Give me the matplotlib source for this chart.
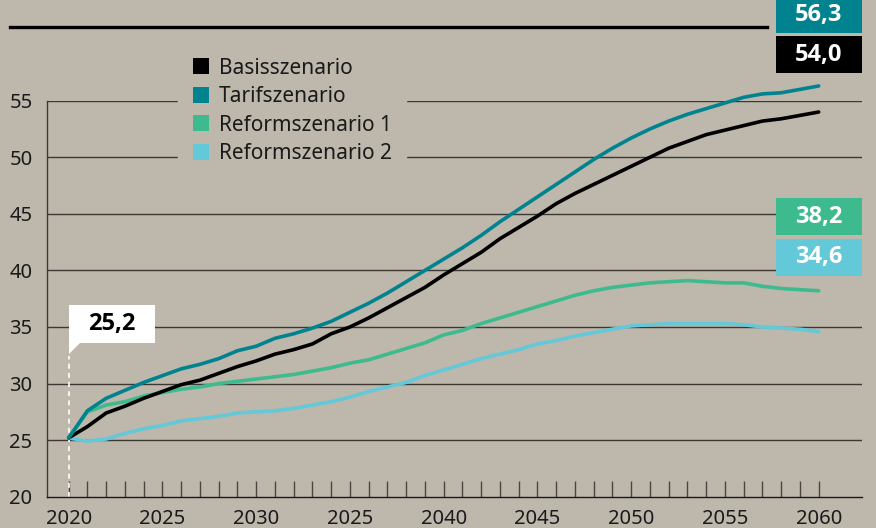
import numpy as np
import matplotlib
matplotlib.use('Agg')
import matplotlib.pyplot as plt
from matplotlib.patches import Patch, Rectangle, Polygon
from matplotlib.lines import Line2D

# Daten, jaehrlich 2020-2060
jahre = list(range(2020, 2061))
basis = [25.2, 26.2, 27.4, 28.0, 28.7, 29.3, 29.9, 30.3, 30.9, 31.5,
         32.0, 32.6, 33.0, 33.5, 34.4, 35.0, 35.8, 36.7, 37.6, 38.5,
         39.6, 40.6, 41.6, 42.8, 43.8, 44.8, 45.9, 46.8, 47.6, 48.4,
         49.2, 50.0, 50.8, 51.4, 52.0, 52.4, 52.8, 53.2, 53.4, 53.7, 54.0]
tarif = [25.2, 27.6, 28.7, 29.4, 30.1, 30.7, 31.3, 31.7, 32.2, 32.9,
         33.3, 34.0, 34.4, 34.9, 35.5, 36.3, 37.1, 38.0, 39.0, 40.0,
         41.0, 42.0, 43.1, 44.3, 45.4, 46.5, 47.6, 48.7, 49.8, 50.8,
         51.7, 52.5, 53.2, 53.8, 54.3, 54.8, 55.3, 55.6, 55.7, 56.0, 56.3]
reform1 = [25.2, 27.5, 28.1, 28.4, 28.9, 29.2, 29.5, 29.7, 30.0, 30.2,
           30.4, 30.6, 30.8, 31.1, 31.4, 31.8, 32.1, 32.6, 33.1, 33.6,
           34.3, 34.7, 35.3, 35.8, 36.3, 36.8, 37.3, 37.8, 38.2, 38.5,
           38.7, 38.9, 39.0, 39.1, 39.0, 38.9, 38.9, 38.6, 38.4, 38.3, 38.2]
reform2 = [25.2, 24.9, 25.1, 25.6, 26.0, 26.3, 26.7, 26.9, 27.1, 27.4,
           27.5, 27.6, 27.8, 28.1, 28.4, 28.8, 29.3, 29.7, 30.1, 30.7,
           31.2, 31.7, 32.2, 32.6, 33.0, 33.5, 33.8, 34.2, 34.5, 34.8,
           35.1, 35.2, 35.3, 35.3, 35.3, 35.3, 35.2, 35.0, 34.9, 34.8, 34.6]

namen = ['Basisszenario', 'Tarifszenario', 'Reformszenario 1', 'Reformszenario 2']
farben = ['#000000', '#00838f', '#3dbb8f', '#63c8d7']
x_ticks = [2020, 2025, 2030, 2035, 2040, 2045, 2050, 2055, 2060]
x_labels = ['2020', '2025', '2030', '2025', '2040', '2045', '2050', '2055', '2060']
y_ticks = [20, 25, 30, 35, 40, 45, 50, 55]

bg = '#bdb7ac'
W, H = 876, 528
fett = ['Open Sans', 'Roboto', 'DejaVu Sans']

plt.rcParams['font.family'] = ['Noto Sans', 'DejaVu Sans']

fig = plt.figure(figsize=(W / 100, H / 100), dpi=100, facecolor=bg)
ax = fig.add_axes([46.5 / W, 1 - 496.7 / H, (862 - 46.5) / W, (496.7 - 100.7) / H])
ax.set_facecolor(bg)


def fx(px):
    return px / W


def fy(py):
    return 1 - py / H


# Linien
serien = [basis, tarif, reform1, reform2]
for idx in [3, 2, 0, 1]:
    ax.plot(jahre, serien[idx], color=farben[idx], lw=2.6, clip_on=False,
            solid_capstyle='round', solid_joinstyle='round', zorder=3)

ax.set_xlim(2018.816, 2062.31)
ax.set_ylim(20, 55)

# Achsen
for s in ['top', 'right']:
    ax.spines[s].set_visible(False)
ax.spines['left'].set_color('#3c3833')
ax.spines['bottom'].set_color('#1a1a1a')
ax.spines['left'].set_linewidth(1.0)
ax.spines['bottom'].set_linewidth(1.0)

ax.set_yticks(y_ticks)
ax.tick_params(axis='y', length=0, pad=10, labelsize=14.5, labelcolor='#1a1a1a')
ax.set_xticks(x_ticks)
ax.set_xticklabels(x_labels)
ax.set_xticks(jahre, minor=True)
ax.tick_params(axis='x', which='both', direction='in', length=11.5, width=1.0,
               color='#4a4540', pad=9, labelsize=14.5, labelcolor='#1a1a1a')

# Gitternetz
for v in y_ticks[1:]:
    ax.axhline(v, color='#3c3833', lw=1.0, zorder=1)

# Legende
handles = [Patch(facecolor=c, edgecolor='none') for c in farben]
leg = ax.legend(handles, namen, loc='upper left',
                bbox_to_anchor=(fx(178), fy(43)), bbox_transform=fig.transFigure,
                fontsize=15, frameon=True, facecolor=bg, edgecolor=bg, framealpha=1,
                handlelength=0.8, handleheight=0.8, handletextpad=0.45,
                labelspacing=0.36, borderpad=0.7, borderaxespad=0, fancybox=False)
leg.set_zorder(2)
for t in leg.get_texts():
    t.set_color('#1a1a1a')

# Obere Linie
fig.add_artist(Line2D([fx(10), fx(767)], [fy(27), fy(27)], color='black', lw=2.4))

# Endwerte-Boxen
def fmt(v):
    return ('%.1f' % v).replace('.', ',')

boxen = [(tarif[-1], farben[1], -4, 33, 15), (basis[-1], farben[0], 36, 73, 54.5),
         (reform1[-1], farben[2], 198, 235, 216.5), (reform2[-1], farben[3], 239, 276, 257.5)]
for wert, c, y0, y1, yt in boxen:
    fig.add_artist(Rectangle((fx(776), fy(y1)), fx(862) - fx(776), fy(y0) - fy(y1),
                             transform=fig.transFigure, facecolor=c, edgecolor='none'))
    fig.text(fx(819), fy(yt), fmt(wert), color='white', fontsize=17,
             fontweight='bold', family=fett, ha='center', va='center')

# Startwert-Annotation
fig.add_artist(Rectangle((fx(69), fy(343)), fx(155) - fx(69), fy(305) - fy(343),
                         transform=fig.transFigure, facecolor='white', edgecolor='none'))
fig.add_artist(Polygon([[fx(69), fy(342)], [fx(69), fy(354)], [fx(81), fy(342)]],
                       closed=True, transform=fig.transFigure, facecolor='white',
                       edgecolor='none'))
fig.text(fx(112), fy(324), fmt(basis[0]), color='black', fontsize=17,
         fontweight='bold', family=fett, ha='center', va='center')
ax.plot([jahre[0], jahre[0]], [20, 20 + (496.7 - 356) / 11.31], color='white',
        lw=1.2, ls=(0, (3, 2.5)), zorder=2, clip_on=False)

fig.savefig('out.png', dpi=100, facecolor=bg)
plt.close('all')
